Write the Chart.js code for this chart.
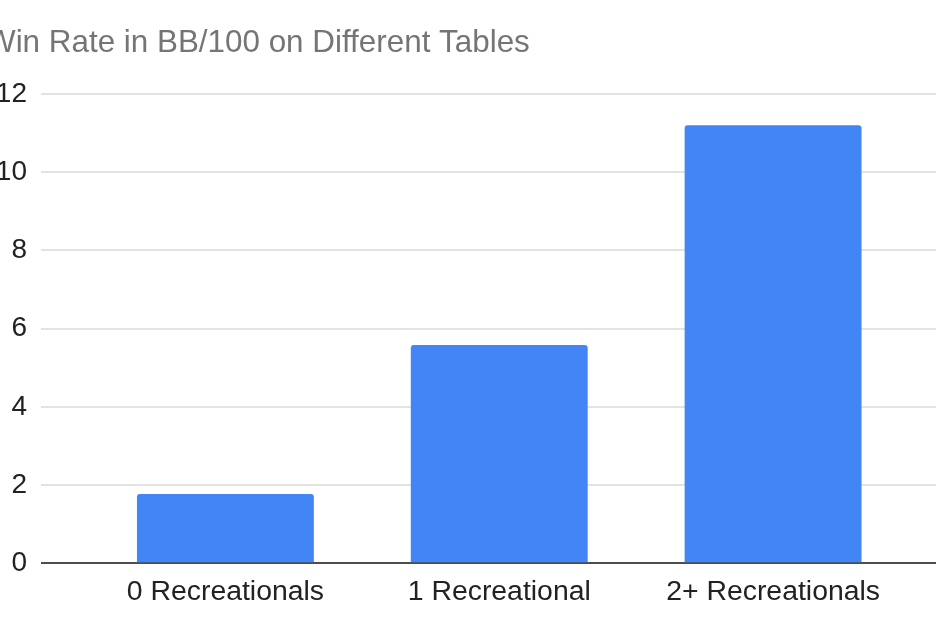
<!DOCTYPE html>
<html>
<head>
<meta charset="utf-8">
<script src="https://cdn.jsdelivr.net/npm/chart.js@4.4.0/dist/chart.umd.min.js"></script>
<style>
  html, body { margin: 0; padding: 0; overflow: hidden; background: #ffffff; width: 936px; height: 624px; }
  #wrap { position: absolute; left: -30px; top: 0; width: 966px; height: 624px; }
</style>
</head>
<body>
<div id="wrap"><canvas id="c" width="966" height="624"></canvas></div>
<script>
const categories = ["0 Recreationals", "1 Recreational", "2+ Recreationals"];
const winRates = [1.77, 5.58, 11.2];
const yTicks = [0, 2, 4, 6, 8, 10, 12];
const titleText = "Win Rate in BB/100 on Different Tables";

const FONT = "'Liberation Sans', Arial, sans-serif";
const gridColor = (ctx) => (ctx.tick && ctx.tick.value === 0) ? '#4d4d4d' : '#e3e3e3';

new Chart(document.getElementById('c'), {
  type: 'bar',
  data: {
    labels: categories,
    datasets: [{
      data: winRates,
      backgroundColor: '#4285F4',
      borderWidth: 0,
      borderRadius: 3,
      borderSkipped: 'bottom',
      categoryPercentage: 1.0,
      barPercentage: 0.646
    }]
  },
  options: {
    responsive: false,
    animation: false,
    devicePixelRatio: 1,
    layout: { padding: { left: 16, right: 0, top: 0, bottom: 0 } },
    plugins: {
      legend: { display: false },
      tooltip: { enabled: false },
      title: {
        display: true,
        text: titleText,
        align: 'start',
        color: '#757575',
        font: { family: FONT, size: 31.4, weight: 'normal' },
        padding: { top: 25, bottom: 31.3 }
      }
    },
    scales: {
      x: {
        grid: { display: false, drawTicks: false },
        border: { display: false },
        ticks: {
          color: '#222222',
          font: { family: FONT, size: 28.4 },
          padding: 11.5,
          maxRotation: 0,
          autoSkip: false
        },
        afterFit: (s) => { s.height = 60.7; }
      },
      y: {
        min: 0,
        max: 12,
        afterBuildTicks: (s) => { s.ticks = yTicks.map(v => ({ value: v })); },
        grid: {
          color: gridColor,
          lineWidth: 2,
          drawTicks: true,
          tickLength: 47.5
        },
        border: { display: false },
        ticks: {
          color: '#222222',
          font: { family: FONT, size: 28 },
          padding: 14
        },
        afterFit: (s) => { s.width = 102.5; }
      },
      y2: {
        position: 'right',
        min: 0,
        max: 12,
        afterBuildTicks: (s) => { s.ticks = yTicks.map(v => ({ value: v })); },
        grid: {
          color: gridColor,
          lineWidth: 2,
          drawOnChartArea: false,
          drawTicks: true,
          tickLength: 26
        },
        border: { display: false },
        ticks: { display: false },
        afterFit: (s) => { s.width = 26; }
      }
    }
  }
});
</script>
</body>
</html>
